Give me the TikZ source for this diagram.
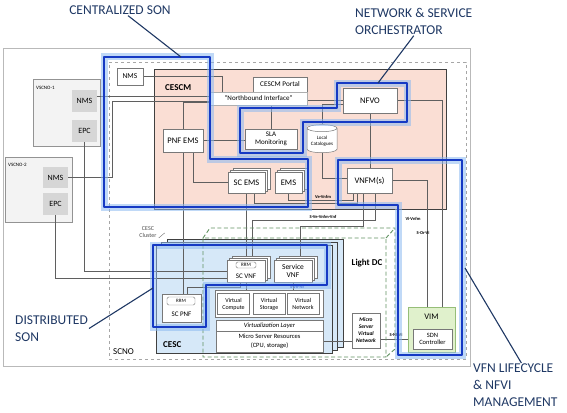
\documentclass[tikz,border=0pt]{standalone}
\usepackage{fontspec}
\setmainfont{Carlito}
\usetikzlibrary{shapes.geometric,shadows}

\definecolor{navy}{RGB}{31,56,100}
\definecolor{hlblue}{RGB}{22,58,196}
\definecolor{hlglow}{RGB}{140,185,240}
\definecolor{cescmpink}{RGB}{250,222,212}
\definecolor{cescblue}{RGB}{214,232,248}
\definecolor{vimgreen}{RGB}{224,241,204}
\definecolor{vimedge}{RGB}{150,190,120}
\definecolor{dcgreen}{RGB}{95,145,95}
\definecolor{boxgray}{RGB}{120,120,120}
\definecolor{linegray}{RGB}{95,95,95}
\definecolor{vscgray}{RGB}{214,214,214}
\definecolor{vscfill}{RGB}{243,243,243}

\pgfdeclarelayer{bg}
\pgfdeclarelayer{lines}
\pgfdeclarelayer{hl}
\pgfsetlayers{bg,lines,main,hl}

\newcommand{\fsz}[2]{\fontsize{#1}{#2}\selectfont}

\begin{document}
\begin{tikzpicture}[x=1pt, y=-1pt,
  box/.style={draw=boxgray, fill=white, line width=0.5pt, inner sep=0pt, align=center, font=\fsz{8.5}{9.5}},
  smallbox/.style={box, font=\fsz{6.5}{7.5}},
  greybox/.style={fill=vscgray, inner sep=0pt, font=\fsz{8}{9}},
  vscbox/.style={draw=boxgray!80, fill=vscfill, line width=0.5pt, inner sep=0pt},
  stack/.style={double copy shadow={shadow xshift=2.5pt, shadow yshift=2pt}},
  rrmbox/.style={draw=boxgray, fill=white, rounded corners=1.5pt, inner sep=0pt, font=\fsz{5}{5}},
  cyl/.style={cylinder, shape border rotate=90, aspect=0.3, draw=boxgray, fill=white, line width=0.5pt,
    minimum width=30pt, minimum height=28pt, inner sep=0.5pt, align=center, font=\fsz{5}{6}},
  conn/.style={draw=linegray, line width=0.45pt},
  iflabel/.style={font=\bfseries\fsz{4.5}{5}, inner sep=0.5pt},
  title/.style={font=\bfseries\fsz{9}{10}, inner sep=0pt},
  hl/.style={draw=hlblue, line width=2.4pt, line join=round, preaction={draw=hlglow, line width=7pt, opacity=0.55}},
  call/.style={text=navy, font=\fsz{13.5}{17}, inner sep=1pt, align=left},
  callline/.style={draw=navy, line width=1.1pt}
]
\useasboundingbox (0,0) rectangle (567,412);

% containers
\begin{pgfonlayer}{bg}
\node[draw=gray!55, line width=0.6pt, minimum width=467pt, minimum height=318pt, inner sep=0pt] (frame) at (236.5,207) {};
\node[draw=gray!70, dashed, line width=0.6pt, minimum width=357pt, minimum height=297pt, inner sep=0pt] (scno) at (287.5,210.5) {};
\node[draw=black!75, fill=cescmpink, line width=0.8pt, minimum width=292pt, minimum height=140pt, inner sep=0pt] (cescm) at (300,139) {};
\node[vscbox, minimum width=67pt, minimum height=67pt] (vsc1) at (66.5,112.5) {};
\node[vscbox, minimum width=67pt, minimum height=65pt] (vsc2) at (38.5,189.5) {};
\node[draw=black!75, fill=cescblue, line width=0.7pt, minimum width=176pt, minimum height=108pt, inner sep=0pt,
  double copy shadow={shadow xshift=5.5pt, shadow yshift=3pt}] (cesc) at (244,299) {};
\end{pgfonlayer}

\node[title, anchor=west] (cescmlbl) at (165,88) {CESCM};
\node[title, anchor=west] (cesclbl) at (163,345) {CESC};
\node[title] (lightdc) at (367,263) {Light DC};
\node[font=\fsz{9}{10}, anchor=west, inner sep=0pt] (scnolbl) at (113,352) {SCNO};
\node[font=\fsz{5}{6}, anchor=west, inner sep=0pt] (vsc1lbl) at (36,88) {VSCNO-1};
\node[font=\fsz{5}{6}, anchor=west, inner sep=0pt] (vsc2lbl) at (8,165) {VSCNO-2};
\node[font=\fsz{6}{7.5}, text=black!70, align=center, inner sep=0pt] (cluster) at (148,232) {CESC\\Cluster};

% boxes
\node[box, minimum width=26pt, minimum height=17pt, font=\fsz{7.5}{8}] (scnms) at (130,76.5) {NMS};
\node[greybox, minimum width=25pt, minimum height=22pt] (v1nms) at (84.5,101) {NMS};
\node[greybox, minimum width=25pt, minimum height=22pt] (v1epc) at (84.5,131) {EPC};
\node[greybox, minimum width=25pt, minimum height=21pt] (v2nms) at (55.5,177.5) {NMS};
\node[greybox, minimum width=25pt, minimum height=22pt] (v2epc) at (55.5,204) {EPC};

\node[box, minimum width=54pt, minimum height=15pt, font=\fsz{7.2}{8}] (portal) at (280,84.5) {CESCM Portal};
\node[box, draw=boxgray!60, minimum width=97pt, minimum height=13pt, font=\fsz{7}{8}] (nbi) at (258.5,98.5) {``Northbound Interface''};
\node[box, minimum width=40pt, minimum height=23pt] (pnfems) at (183,140.5) {PNF EMS};
\node[box, minimum width=52pt, minimum height=20pt, font=\fsz{7}{8}] (sla) at (271,139) {SLA\\Monitoring};
\node[cyl] (cat) at (322,141) {Local\\Catalogues};
\node[box, stack, minimum width=37pt, minimum height=21pt] (scems) at (246.5,182.5) {SC EMS};
\node[box, stack, minimum width=27pt, minimum height=21pt] (ems) at (288.5,182.5) {EMS};
\node[box, minimum width=54pt, minimum height=25pt] (nfvo) at (370,100.5) {NFVO};
\node[box, minimum width=45pt, minimum height=25pt] (vnfm) at (369.5,180.5) {VNFM(s)};

\node[box, stack, minimum width=38pt, minimum height=22pt] (scvnf) at (246,271) {};
\node[rrmbox, minimum width=20pt, minimum height=6pt] (rrm1) at (246,265) {RRM};
\node[font=\fsz{7}{8}, inner sep=0pt] (scvnftxt) at (246,276.5) {SC VNF};
\node[box, stack, minimum width=38pt, minimum height=22pt, font=\fsz{7.5}{8.5}] (svnf) at (293,271) {Service\\VNF};
\node[box, minimum width=39pt, minimum height=28pt] (scpnf) at (181.5,308) {};
\node[rrmbox, minimum width=28pt, minimum height=8pt] (rrm2) at (181,301) {RRM};
\node[font=\fsz{7}{8}, inner sep=0pt] (scpnftxt) at (181.5,314.5) {SC PNF};

\node[box, minimum width=108pt, minimum height=27pt] (virt) at (269,303.5) {};
\node[box, minimum width=32pt, minimum height=21pt, font=\fsz{6}{7}] (vcomp) at (233.5,304) {Virtual\\Compute};
\node[box, minimum width=32pt, minimum height=21pt, font=\fsz{6}{7}] (vstor) at (269,304) {Virtual\\Storage};
\node[box, minimum width=32pt, minimum height=21pt, font=\fsz{6}{7}] (vnet) at (303,304) {Virtual\\Network};
\node[box, minimum width=107pt, minimum height=11pt, font=\itshape\fsz{6.5}{7}] (vlayer) at (269.5,325.5) {Virtualization Layer};
\node[box, minimum width=107pt, minimum height=21pt, font=\fsz{6.5}{8.5}] (msr) at (269.5,341.5) {Micro Server Resources\\(CPU, storage)};
\node[box, minimum width=28pt, minimum height=35pt, font=\bfseries\itshape\fsz{5.5}{7}] (msvn) at (366,330.5) {Micro\\Server\\Virtual\\Network};

\node[draw=vimedge, fill=vimgreen, line width=0.6pt, minimum width=47pt, minimum height=45pt, inner sep=0pt] (vim) at (431.5,329.5) {};
\node[font=\fsz{8.5}{9}, inner sep=0pt] (vimtxt) at (431.5,317) {VIM};
\node[box, minimum width=39pt, minimum height=20pt, font=\fsz{6.5}{7.5}] (sdn) at (432.5,339) {SDN\\Controller};

% interface labels
\node[iflabel] (vevnfm) at (323,196.5) {Ve-Vnfm};
\node[iflabel] (svevnf) at (323,216.5) {S-Ve-Vnfm-Vnf};
\node[iflabel] (vivnfm) at (413,219) {Vi-Vnfm};
\node[iflabel] (sorvi) at (423,233) {S-Or-Vi};
\node[iflabel, text=hlblue] (svnnf) at (297,286.5) {S-Vn-Nf};
\node[iflabel] (snfvi) at (396,334.5) {S-Nf-Vi};

% connections
\begin{pgfonlayer}{lines}
\draw[conn] (scnms.east) -| ([xshift=12pt]nbi.north west);
\draw[conn] ([yshift=5pt]v1nms.east) -- ([yshift=2.5pt]nbi.west);
\draw[conn] (v2nms.east) -| (112,101) -- ([yshift=-2.5pt]nbi.west);
\draw[conn] (nfvo.west) -- (nfvo.west -| nbi.east);
\draw[conn] ([yshift=-4pt]nfvo.west) -| (cat.north);
\draw[conn] (cat.south) |- ([yshift=2.5pt]vnfm.west);
\draw[conn] (sla.north) -- (sla.north |- nbi.south);
\draw[conn] (pnfems.east) -- (pnfems.east -| sla.west);
\draw[conn] (pnfems.north) |- ([yshift=-4pt]nbi.west);
\draw[conn] (pnfems.south) -- (pnfems.south |- scpnf.north);
\draw[conn] ([xshift=10pt]pnfems.south) |- (scems.west);
\draw[conn] (scems.south) -- (scems.south |- scvnf.north);
\draw[conn] ([xshift=5.5pt]vnfm.south) -- ++(0,27) -| ([xshift=6pt]scvnf.north);
\draw[conn] ([xshift=-6.5pt]vnfm.south) -- ++(0,33) -| ([xshift=7pt]svnf.north);
\draw[conn] (ems.south) -- ++(0,7) -| ([xshift=-16.5pt]vnfm.south);
\draw[conn] ([xshift=8pt]scems.south) -- ++(0,10) -| ([xshift=-12pt]vnfm.south);
\draw[conn] (nfvo.south) -- (nfvo.south |- vnfm.north);
\draw[conn] (nfvo.east) -| ([xshift=10.5pt]vim.north);
\draw[conn] (vnfm.east) -| ([xshift=-4.5pt]vim.north);
\draw[conn] (v1epc.south) |- (scvnf.west);
\draw[conn] (v2epc.south) |- ([yshift=-7pt]scvnf.west);
\draw[conn] (scvnf.south) -- (scvnf.south |- virt.north);
\draw[conn] (svnf.south) -- (svnf.south |- virt.north);
\draw[conn] ([xshift=6pt]scpnf.north) -- ++(0,-7) -| ([xshift=-6pt]scvnf.south);
\draw[conn] (msr.east) -- (msr.east -| msvn.west);
\draw[conn] (sdn.west) -- (sdn.west -| msvn.east);
\draw[draw=black!60, line width=0.4pt] ([xshift=2pt]cluster.south east) -- ++(6,-5);
% light DC
\draw[draw=dcgreen, line width=0.9pt, dash pattern=on 4pt off 2.5pt]
  (203,238) rectangle (386,357)
  (203,238) -- (210,228) -- (395,228) -- (395,349) -- (386,357)
  (386,238) -- (395,228);
\end{pgfonlayer}

% highlights and callouts
\begin{pgfonlayer}{hl}
\draw[hl] (104,57) -- (210,57) -- (210,159) -- (308,159) -- (308,207) -- (104,207) -- cycle;
\draw[hl] (337,83) -- (407,83) -- (407,122) -- (303,122) -- (303,153) -- (240,153) -- (240,108) -- (337,108) -- cycle;
\draw[hl] (338,160) -- (462,160) -- (462,355) -- (398,355) -- (398,205) -- (338,205) -- cycle;
\draw[hl] (153,245) -- (327,245) -- (327,285) -- (206,285) -- (206,327) -- (153,327) -- cycle;

\node[call] (csontxt) at (120,10) {CENTRALIZED SON};
\node[call, anchor=north west] (nsotxt) at (354,7) {NETWORK \& SERVICE\\ORCHESTRATOR};
\node[call, anchor=west] (dsontxt) at (14,328.5) {DISTRIBUTED\\SON};
\node[call, anchor=north west] (vfntxt) at (472,363) {VFN LIFECYCLE\\\& NFVI\\MANAGEMENT};
\coordinate (csonpt) at (181,57);
\coordinate (nsopt) at (378,83);
\coordinate (dsonpt) at (153,288);
\coordinate (vfnpt) at (465,268);
\draw[callline] ([xshift=8pt]csontxt.south) -- (csonpt);
\draw[callline] (nsotxt.south) -- (nsopt);
\draw[callline] (dsontxt.east) -- (dsonpt);
\draw[callline] ([xshift=6pt]vfntxt.north) -- (vfnpt);
\end{pgfonlayer}
\end{tikzpicture}
\end{document}
